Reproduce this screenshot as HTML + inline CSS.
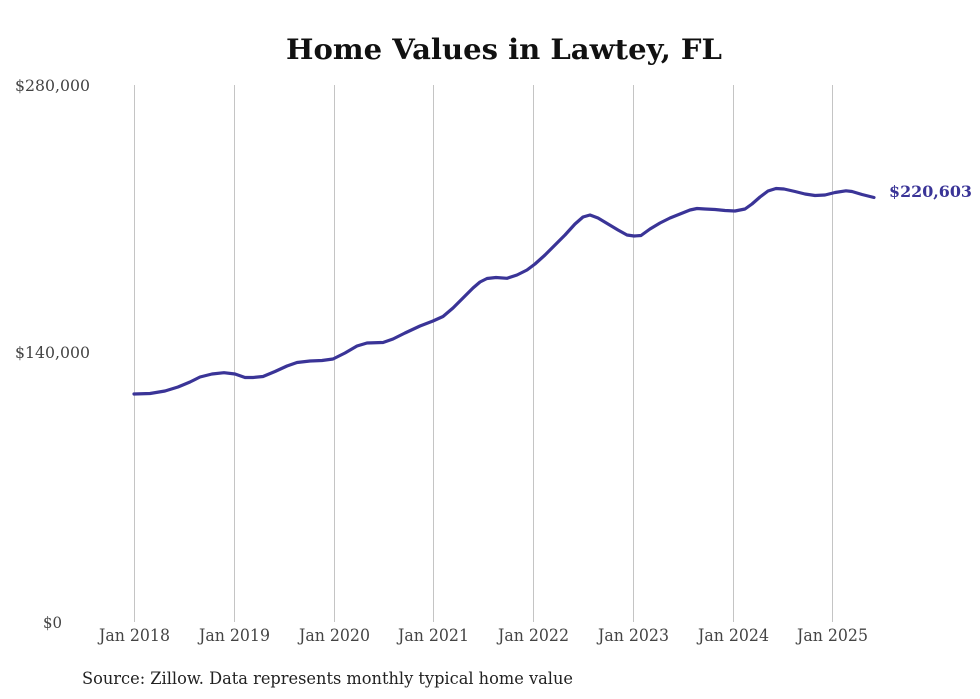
<!DOCTYPE html>
<html>
<head>
<meta charset="utf-8">
<style>
  html, body { margin: 0; padding: 0; background: #ffffff; }
  body { width: 980px; height: 699px; overflow: hidden; }
  svg { display: block; }
  text { font-family: "DejaVu Serif", "Liberation Serif", serif; }
</style>
</head>
<body>
<svg width="980" height="699" viewBox="0 0 980 699" xmlns="http://www.w3.org/2000/svg">
  <rect x="0" y="0" width="980" height="699" fill="#ffffff"/>

  <!-- Title -->
  <text x="504" y="59" text-anchor="middle" font-size="28" font-weight="bold" fill="#111" textLength="436" lengthAdjust="spacingAndGlyphs">Home Values in Lawtey, FL</text>

  <!-- Vertical gridlines -->
  <g stroke="#c4c4c4" stroke-width="1">
    <line x1="134.5" y1="85" x2="134.5" y2="622"/>
    <line x1="234.5" y1="85" x2="234.5" y2="622"/>
    <line x1="334.5" y1="85" x2="334.5" y2="622"/>
    <line x1="433.5" y1="85" x2="433.5" y2="622"/>
    <line x1="533.5" y1="85" x2="533.5" y2="622"/>
    <line x1="633.5" y1="85" x2="633.5" y2="622"/>
    <line x1="733.5" y1="85" x2="733.5" y2="622"/>
    <line x1="832.5" y1="85" x2="832.5" y2="622"/>
  </g>

  <!-- Y axis labels -->
  <g font-size="16" fill="#444">
    <text x="15" y="91" textLength="75" lengthAdjust="spacingAndGlyphs">$280,000</text>
    <text x="15" y="358" textLength="75" lengthAdjust="spacingAndGlyphs">$140,000</text>
    <text x="43" y="628" textLength="19" lengthAdjust="spacingAndGlyphs">$0</text>
  </g>

  <!-- X axis labels -->
  <g font-size="17" fill="#444" text-anchor="middle">
    <text x="134.5" y="641" textLength="71" lengthAdjust="spacingAndGlyphs">Jan 2018</text>
    <text x="234.5" y="641" textLength="71" lengthAdjust="spacingAndGlyphs">Jan 2019</text>
    <text x="334.5" y="641" textLength="71" lengthAdjust="spacingAndGlyphs">Jan 2020</text>
    <text x="433.5" y="641" textLength="71" lengthAdjust="spacingAndGlyphs">Jan 2021</text>
    <text x="533.5" y="641" textLength="71" lengthAdjust="spacingAndGlyphs">Jan 2022</text>
    <text x="633.5" y="641" textLength="71" lengthAdjust="spacingAndGlyphs">Jan 2023</text>
    <text x="733.5" y="641" textLength="71" lengthAdjust="spacingAndGlyphs">Jan 2024</text>
    <text x="832.5" y="641" textLength="71" lengthAdjust="spacingAndGlyphs">Jan 2025</text>
  </g>

  <!-- Series line -->
  <polyline fill="none" stroke="#3a3497" stroke-width="3.2" stroke-linejoin="round" stroke-linecap="round"
    points="134,394 150,393.5 165,391 178,387 190,382 200,377 212,374 224,372.7 235,374 245,377.5 253,377.5 263,376.5 275,371.5 287,366 297,362.5 310,361 322,360.5 333,359 345,353 357,346 367,343 383,342.5 393,339 405,333 420,326 433,321 443,316.5 453,308 463,298 473,288 480,282 487,278.5 496,277.5 507,278.3 517,275 527,270 535,264 545,255 555,245 565,235 575,224 583,217 590,215 598,218 608,224 618,230 627,235 634,236 641,235.5 650,229 660,223 670,218 680,214 690,210 697,208.5 705,209 715,209.5 725,210.5 735,211 745,209 752,204 760,197 768,191 776,188.5 784,189 795,191.5 805,194 815,195.5 825,195 835,192.5 846,190.8 852,191.5 862,194.5 874,197.5"/>

  <!-- End label -->
  <text x="889" y="197" font-size="16" font-weight="bold" fill="#3a3497" textLength="83" lengthAdjust="spacingAndGlyphs">$220,603</text>

  <!-- Source -->
  <text x="82" y="684" font-size="17" fill="#222" textLength="491" lengthAdjust="spacingAndGlyphs">Source: Zillow. Data represents monthly typical home value</text>
</svg>
</body>
</html>
